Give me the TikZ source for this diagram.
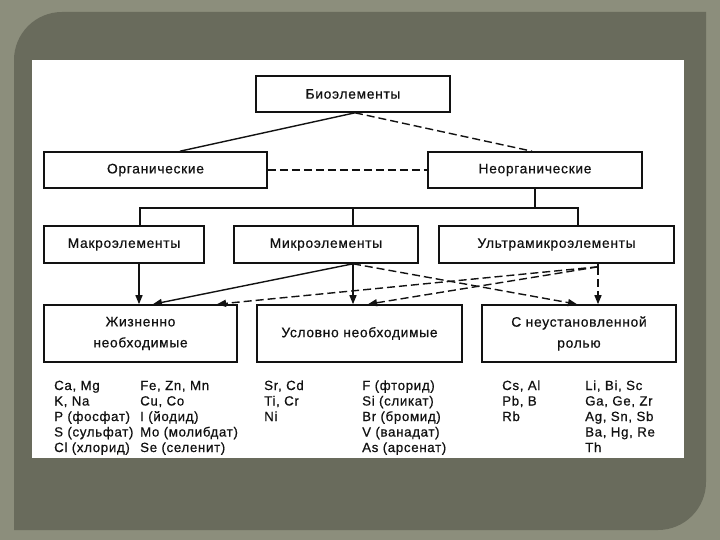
\documentclass[tikz,border=0pt]{standalone}
\usepackage{fontspec}
\setmainfont{Liberation Sans}[LetterSpace=5,FakeBold=0.6]
\usetikzlibrary{arrows.meta}
\definecolor{frameout}{RGB}{140,142,124}
\definecolor{framein}{RGB}{105,107,92}
\definecolor{ink}{RGB}{18,18,18}
\begin{document}
\begin{tikzpicture}[x=1pt,y=-1pt,
  box/.style={draw=ink,line width=1.6pt,inner sep=0pt,align=center,text=ink,
              font=\fontsize{13.8}{21}\selectfont},
  conn/.style={draw=ink,line width=1.4pt},
  dsh/.style={conn,dash pattern=on 8pt off 4pt},
  arr/.style={-{Triangle[length=9pt,width=7pt]}},
  item/.style={anchor=base west,inner sep=0pt,text=ink,font=\fontsize{13.3}{15}\selectfont}
]
\useasboundingbox (0,0) rectangle (720,540);
% background frame
\fill[frameout] (0,0) rectangle (720,540);
\fill[framein] (14,530) -- (14,60) arc[start angle=180,end angle=270,radius=48]
  -- (706,12) -- (706,482) arc[start angle=0,end angle=90,radius=48] -- cycle;
\fill[white] (32,60) rectangle (684,458);

% boxes
\node[box,minimum width=194pt,minimum height=36pt] (bio) at (353,94) {Биоэлементы};
\node[box,minimum width=223pt,minimum height=36pt] (org) at (155.5,170) {Органические};
\node[box,minimum width=214pt,minimum height=36pt] (inorg) at (535,170) {Неорганические};
\node[box,minimum width=160pt,minimum height=37pt] (macro) at (124,244.5) {Макроэлементы};
\node[box,minimum width=184pt,minimum height=37pt] (micro) at (326,244.5) {Микроэлементы};
\node[box,minimum width=235pt,minimum height=37pt] (ultra) at (556.5,244.5) {Ультрамикроэлементы};
\node[box,minimum width=193pt,minimum height=57pt] (vital) at (140.5,333.5) {Жизненно\\необходимые};
\node[box,minimum width=205pt,minimum height=57pt] (cond) at (359.5,333.5) {Условно необходимые};
\node[box,minimum width=194pt,minimum height=57pt] (unk) at (579,333.5) {С неустановленной\\ролью};

% top connectors
\draw[conn] ([xshift=2pt]bio.south) -- ([xshift=24.5pt]org.north);
\draw[dsh] ([xshift=2pt]bio.south) -- ([xshift=-3pt]inorg.north);
\draw[dsh] (org.east) -- (inorg.west);

% tree from inorganic
\coordinate (bl) at (140,208);
\coordinate (bm) at (353,208);
\coordinate (br) at (578,208);
\draw[conn] (inorg.south) -- (inorg.south |- bl);
\draw[conn] (macro.north -| bl) -- (bl) -- (br) -- (ultra.north -| br);
\draw[conn] (bm) -- (micro.north -| bm);

% arrows to categories
\draw[conn,arr] ([xshift=15pt]macro.south) -- ([xshift=-1.5pt]vital.north);
\coordinate (mj) at ([xshift=27pt]micro.south);
\draw[conn,arr] (mj) -- ([xshift=12.5pt]vital.north);
\draw[conn,arr] (mj) -- ([xshift=-6.5pt]cond.north);
\draw[dsh,arr] (mj) -- ([xshift=-2pt]unk.north);
\coordinate (uj) at ([xshift=41.5pt,yshift=-3pt]ultra.south);
\draw[dsh] ([xshift=41.5pt]ultra.south) -- (uj);
\draw[dsh,arr] (uj) -- ([xshift=76.5pt]vital.north);
\draw[dsh,arr] (uj) -- ([xshift=8.5pt]cond.north);
\draw[dsh,arr] (uj) -- ([xshift=19pt]unk.north);

% element lists
\foreach \t [count=\i] in {{Ca, Mg},{K, Na},{P (фосфат)},{S (сульфат)},{Cl (хлорид)}}
  \node[item,name=ca\i] at (54,{390+15.5*(\i-1)}) {\t};
\foreach \t [count=\i] in {{Fe, Zn, Mn},{Cu, Co},{I (йодид)},{Mo (молибдат)},{Se (селенит)}}
  \node[item,name=cb\i] at (140,{390+15.5*(\i-1)}) {\t};
\foreach \t [count=\i] in {{Sr, Cd},{Ti, Cr},{Ni}}
  \node[item,name=cc\i] at (264,{390+15.5*(\i-1)}) {\t};
\foreach \t [count=\i] in {{F (фторид)},{Si (сликат)},{Br (бромид)},{V (ванадат)},{As (арсенат)}}
  \node[item,name=cd\i] at (362,{390+15.5*(\i-1)}) {\t};
\foreach \t [count=\i] in {{Cs, Al},{Pb, B},{Rb}}
  \node[item,name=ce\i] at (502,{390+15.5*(\i-1)}) {\t};
\foreach \t [count=\i] in {{Li, Bi, Sc},{Ga, Ge, Zr},{Ag, Sn, Sb},{Ba, Hg, Re},{Th}}
  \node[item,name=cf\i] at (585,{390+15.5*(\i-1)}) {\t};
\end{tikzpicture}
\end{document}
